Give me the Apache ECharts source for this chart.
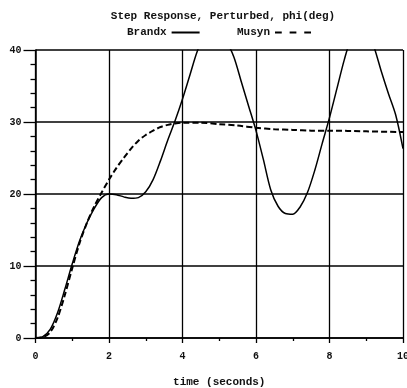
<!DOCTYPE html>
<html>
<head>
<meta charset="utf-8">
<script src="https://cdn.jsdelivr.net/npm/echarts@6/dist/echarts.min.js"></script>
<style>
  html, body { margin: 0; padding: 0; background: #fff; }
  #chart { width: 407px; height: 388px; }
</style>
</head>
<body>
<div id="chart"></div>
<script>
// Time samples (seconds) and step responses of phi (deg)
var brandxTime = [0, 0.2, 0.4, 0.6, 0.8, 1.0, 1.2, 1.4, 1.6, 1.8, 2.0, 2.2, 2.4, 2.6, 2.8, 3.0,
  3.2, 3.4, 3.6, 3.8, 4.0, 4.2, 4.4, 4.6, 4.8, 5.0, 5.2, 5.4, 5.6, 5.8, 6.0, 6.2, 6.4, 6.6,
  6.8, 7.0, 7.2, 7.4, 7.6, 7.8, 8.0, 8.2, 8.4, 8.6, 8.8, 9.0, 9.2, 9.4, 9.6, 9.8, 10.0];
var brandxPhi = [0, 0.2, 1.2, 3.5, 6.8, 10.3, 13.5, 16.0, 18.0, 19.5, 20.0, 19.9, 19.6, 19.4, 19.5, 20.3,
  22.0, 24.6, 27.5, 30.2, 33.2, 36.5, 39.8, 42.0, 43.0, 42.8, 41.2, 39.0, 35.6, 32.2, 28.8, 24.8, 20.6, 18.3,
  17.3, 17.2, 18.2, 20.2, 23.3, 27.0, 30.6, 34.6, 38.6, 41.8, 43.3, 43.0, 40.6, 37.2, 34.0, 31.0, 26.3];

var musynTime = [0, 0.2, 0.4, 0.6, 0.8, 1.0, 1.2, 1.4, 1.6, 1.8, 2.0, 2.2, 2.4, 2.6, 2.8, 3.0,
  3.2, 3.4, 3.6, 3.8, 4.0, 4.5, 5.0, 5.5, 6.0, 6.5, 7.0, 7.5, 8.0, 9.0, 10.0];
var musynPhi = [0, 0.1, 0.8, 2.8, 6.0, 9.7, 13.2, 16.0, 18.3, 20.2, 22.0, 23.6, 25.0, 26.3, 27.4, 28.2,
  28.8, 29.3, 29.6, 29.8, 29.9, 29.9, 29.7, 29.5, 29.2, 29.0, 28.9, 28.8, 28.8, 28.7, 28.6];

var titleText = 'Step Response, Perturbed, phi(deg)';
var xName = 'time (seconds)';
var seriesNames = ['Brandx', 'Musyn'];

function pairs(t, v) {
  return t.map(function (x, i) { return [x, v[i]]; });
}

var mono = 'Liberation Mono';
var textStyle = { fontFamily: mono, fontSize: 11, fontWeight: 'bold', color: '#111' };
// legend keys: a solid bar and three short dashes, drawn after the name
var solidKey = 'rect';
var dashKey = 'path://M0,0h6v2h-6zM13,0h6v2h-6zM26,0h6v2h-6z';

function legendFor(name, left, icon, width) {
  return {
    data: [{ name: name, icon: icon }],
    left: left, top: 27,
    padding: 0,
    align: 'right',
    itemWidth: width, itemHeight: 2, itemGap: 0,
    symbolKeepAspect: false,
    selectedMode: false,
    itemStyle: { color: '#000', borderWidth: 0 },
    textStyle: textStyle
  };
}

var chart = echarts.init(document.getElementById('chart'), null, { renderer: 'canvas' });

chart.setOption({
  animation: false,
  backgroundColor: '#fff',
  title: {
    text: titleText,
    left: 218, top: 6, textAlign: 'center',
    textStyle: textStyle
  },
  legend: [
    legendFor(seriesNames[0], 127, solidKey, 28),
    legendFor(seriesNames[1], 237, dashKey, 36)
  ],
  grid: { left: 35.5, right: 4, top: 50, bottom: 50, containLabel: false, outerBoundsMode: 'none' },
  xAxis: {
    type: 'value', min: 0, max: 10, interval: 2,
    name: xName, nameLocation: 'middle', nameGap: 39,
    nameTextStyle: textStyle,
    axisLine: { show: true, onZero: false, lineStyle: { color: '#000', width: 1.5 } },
    axisTick: { show: true, length: 5, lineStyle: { color: '#000', width: 1.3 } },
    minorTick: { show: true, splitNumber: 2, length: 3, lineStyle: { color: '#000', width: 1.3 } },
    axisLabel: { fontFamily: mono, fontSize: 10, fontWeight: 'bold', color: '#111', margin: 13,
      showMinLabel: true, showMaxLabel: true, hideOverlap: false },
    splitLine: { show: true, showMinLine: true, showMaxLine: true, lineStyle: { color: '#000', width: 1.3 } }
  },
  yAxis: {
    type: 'value', min: 0, max: 40, interval: 10,
    axisLine: { show: true, onZero: false, lineStyle: { color: '#000', width: 1.5 } },
    axisTick: { show: true, length: 12, lineStyle: { color: '#000', width: 1.3 } },
    minorTick: { show: true, splitNumber: 5, length: 5, lineStyle: { color: '#000', width: 1.3 } },
    axisLabel: { fontFamily: mono, fontSize: 10, fontWeight: 'bold', color: '#111', margin: 14 },
    splitLine: { show: true, showMinLine: true, showMaxLine: true, lineStyle: { color: '#000', width: 1.5 } }
  },
  series: [
    {
      name: seriesNames[0], type: 'line', data: pairs(brandxTime, brandxPhi),
      smooth: 0.3, symbol: 'none', showSymbol: false, clip: true,
      lineStyle: { color: '#000', width: 1.5, type: 'solid' },
      itemStyle: { color: '#000' }
    },
    {
      name: seriesNames[1], type: 'line', data: pairs(musynTime, musynPhi),
      smooth: 0.3, symbol: 'none', showSymbol: false, clip: true,
      lineStyle: { color: '#000', width: 2, type: [6, 3] },
      itemStyle: { color: '#000' }
    }
  ]
});
</script>
</body>
</html>
